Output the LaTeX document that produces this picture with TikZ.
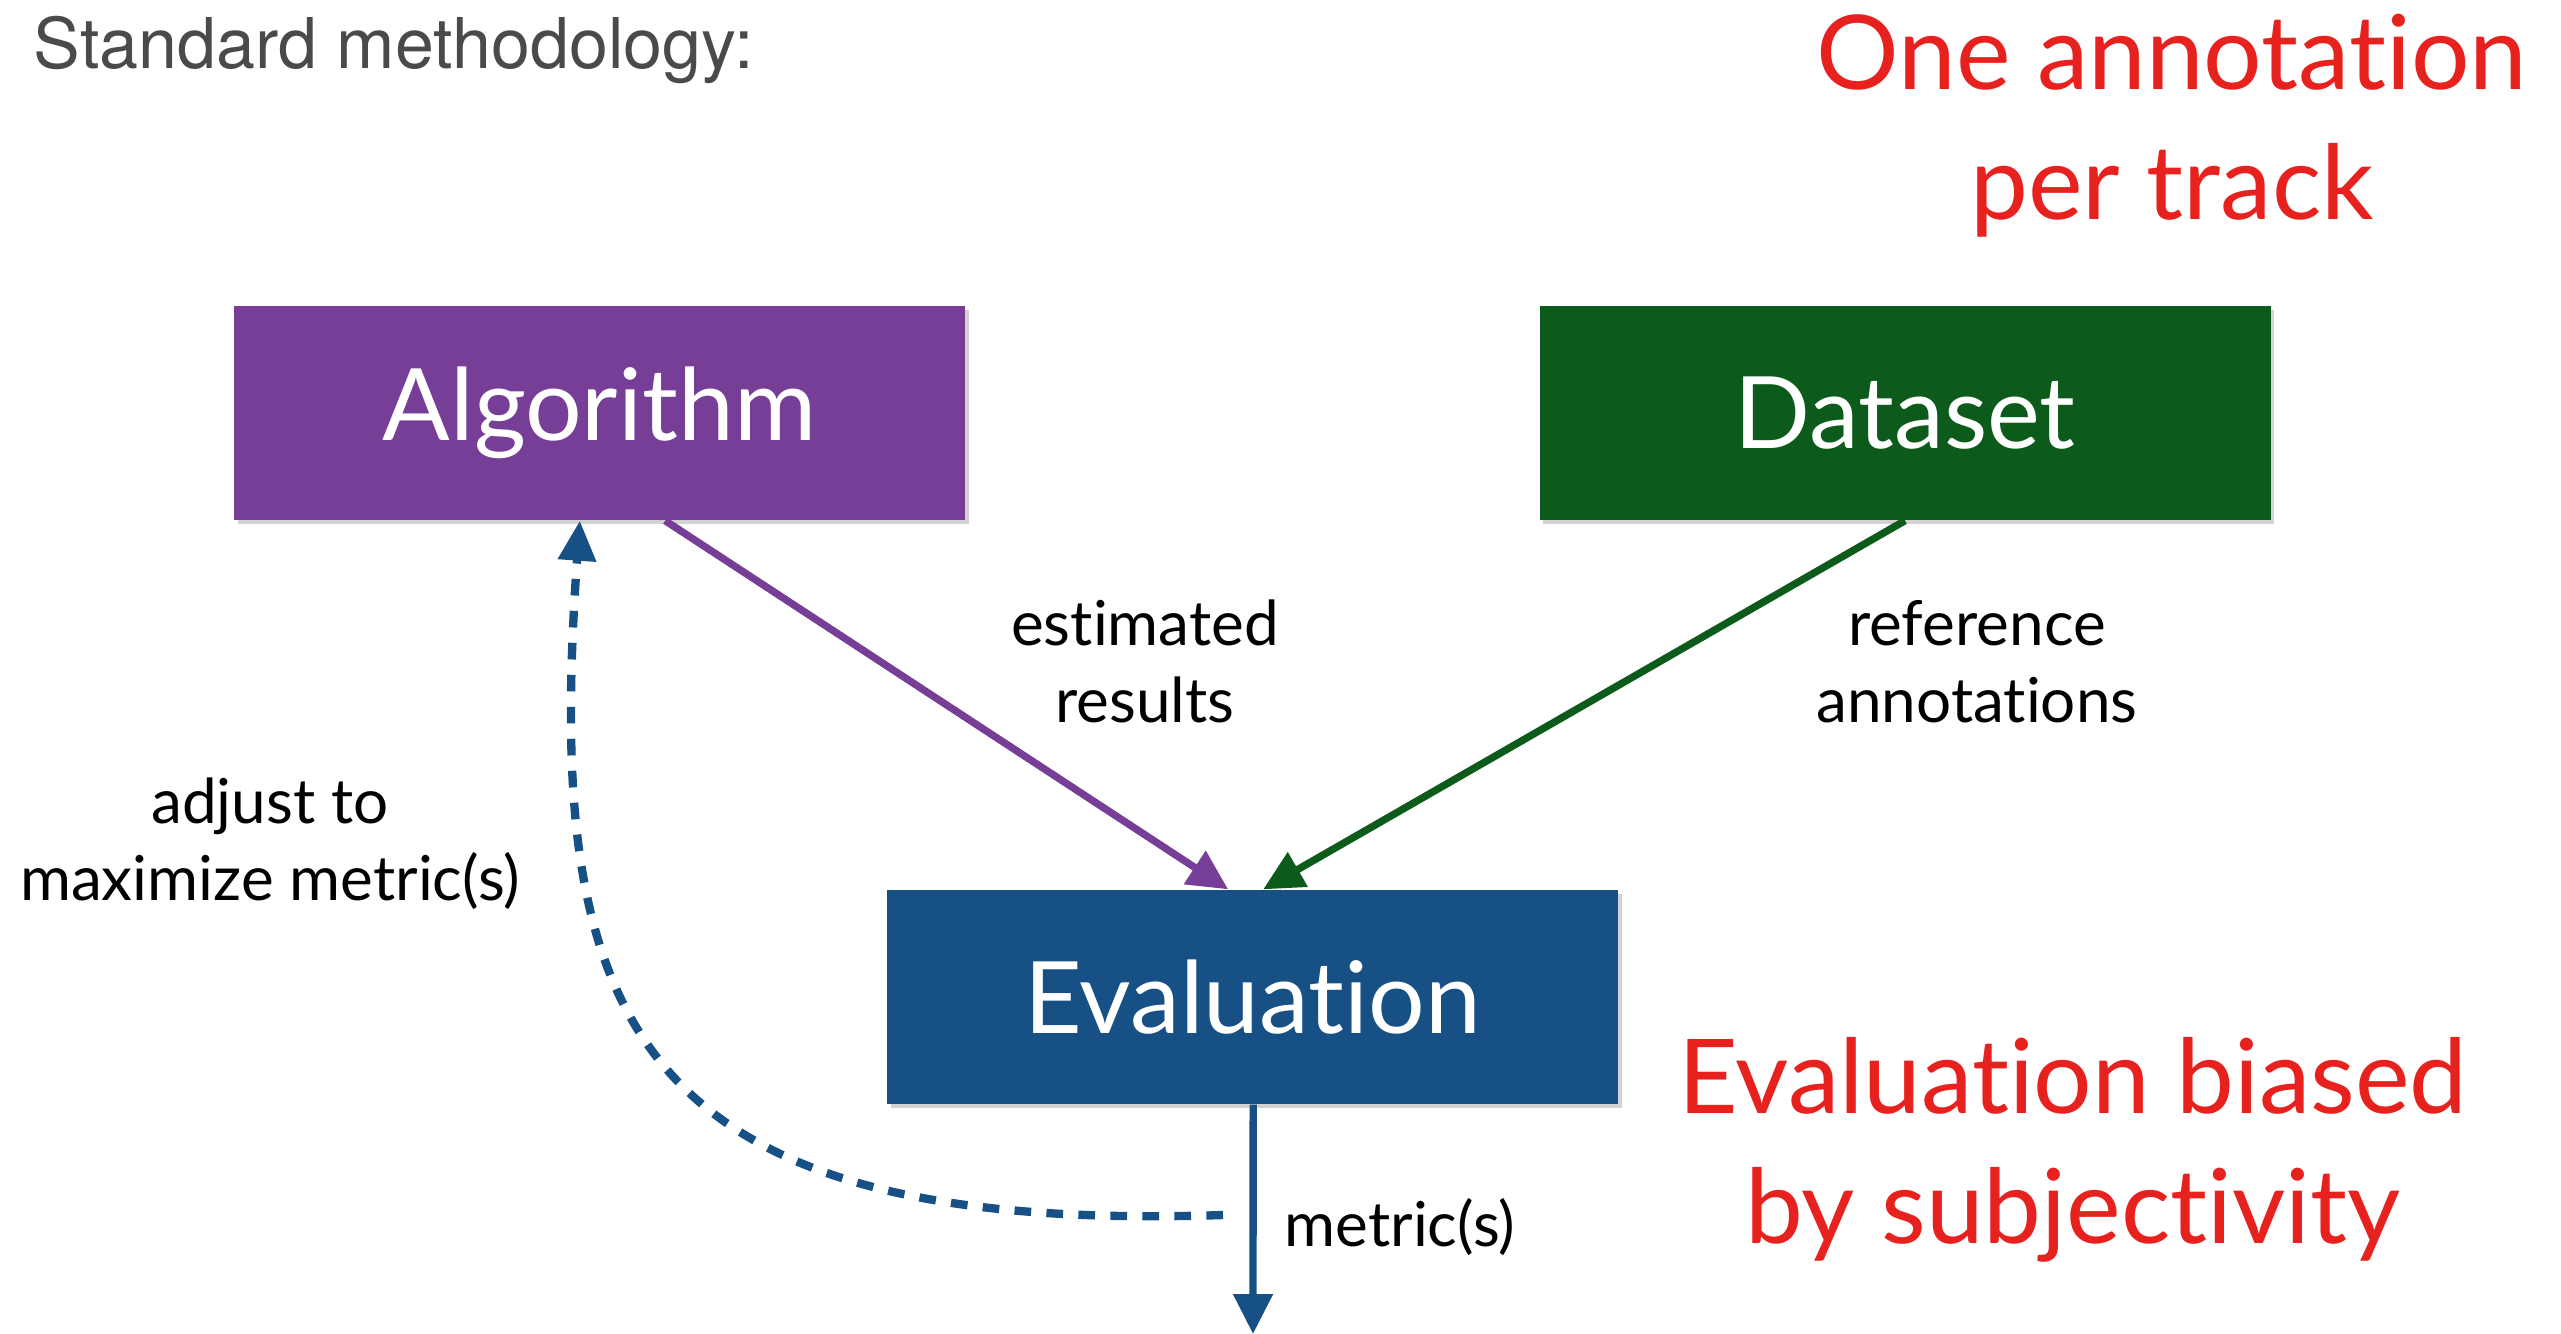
\documentclass[tikz,border=0pt]{standalone}
\usepackage{fontspec}
\setmainfont{Lato}[Ligatures={NoCommon}]
\newfontfamily\helv{TeX Gyre Heros}
\usetikzlibrary{arrows.meta,shadows,calc}

\definecolor{algpurple}{HTML}{773E98}
\definecolor{datagreen}{HTML}{0C5B1B}
\definecolor{evalblue}{HTML}{175084}
\definecolor{notered}{HTML}{E7221E}
\definecolor{titlegray}{HTML}{4A4A4A}

\tikzset{
  stagebox/.style={rectangle, minimum width=219.3pt, minimum height=64.2pt,
    inner sep=0pt, text=white, font=\fontsize{30}{35}\selectfont,
    drop shadow={shadow xshift=1.1pt, shadow yshift=-1.3pt, opacity=0.35}},
  flowlabel/.style={inner sep=0pt, align=center, anchor=base,
    font=\fontsize{18.6}{23.1}\selectfont},
  remark/.style={inner sep=0pt, align=center, anchor=base, text=notered,
    font=\fontsize{31}{39}\selectfont},
  flow/.style={line width=2.2pt, -{Triangle[length=12pt,width=11.5pt]}},
}

\begin{document}
\begin{tikzpicture}[x=0.3pt, y=-0.3pt]
  \useasboundingbox (0,0) rectangle (2561,1334);

  % heading
  \node[inner sep=0pt, anchor=base west, text=titlegray,
        font=\helv\fontsize{21}{25}\selectfont] (title) at (33,68) {Standard methodology:};

  % the three stages
  \node[stagebox, fill=algpurple]  (alg)  at (599.5,413) {Algorithm};
  \node[stagebox, fill=datagreen]  (data) at (1905,413)  {Dataset};
  \node[stagebox, fill=evalblue]   (eval) at (1252.5,997) {Evaluation};

  % attachment points of the connectors
  \coordinate (algout)  at ([xshift=19.7pt]alg.south);
  \coordinate (algin)   at ([xshift=-5.9pt]alg.south);
  \coordinate (dataout) at (data.south);
  \coordinate (evalinA) at ([xshift=-7.3pt]eval.north);
  \coordinate (evalinB) at ([xshift=3.2pt]eval.north);
  \coordinate (evalout) at ([xshift=0.2pt]eval.south);
  \coordinate (sink)    at (1253,1334);
  \coordinate (loop)    at (1223,1215);

  % connectors
  \draw[flow, algpurple] (algout) -- (evalinA);
  \draw[flow, datagreen] (dataout) -- (evalinB);
  \draw[flow, evalblue] (evalout) -- (sink);
  \draw[evalblue, line width=2.5pt, dash pattern=on 5pt off 4.6pt,
        -{Triangle[length=12pt,width=11pt]}]
    (loop) .. controls (620,1235) and (545,1010) .. (algin);

  % connector labels (anchored at the baseline of their last line)
  \node[flowlabel] (est)  at (1145,722) {estimated\\results};
  \node[flowlabel] (refa) at (1977,722) {reference\\annotations};
  \node[flowlabel] (adj)  at (270,900)  {adjust to\\maximize metric(s)};
  \node[flowlabel, anchor=base west] (met) at (1284,1246) {metric(s)};

  % remarks
  \node[remark] (one)  at (2172,219)  {One annotation\\per track};
  \node[remark] (bias) at (2073,1243) {Evaluation biased\\by subjectivity};
\end{tikzpicture}
\end{document}
